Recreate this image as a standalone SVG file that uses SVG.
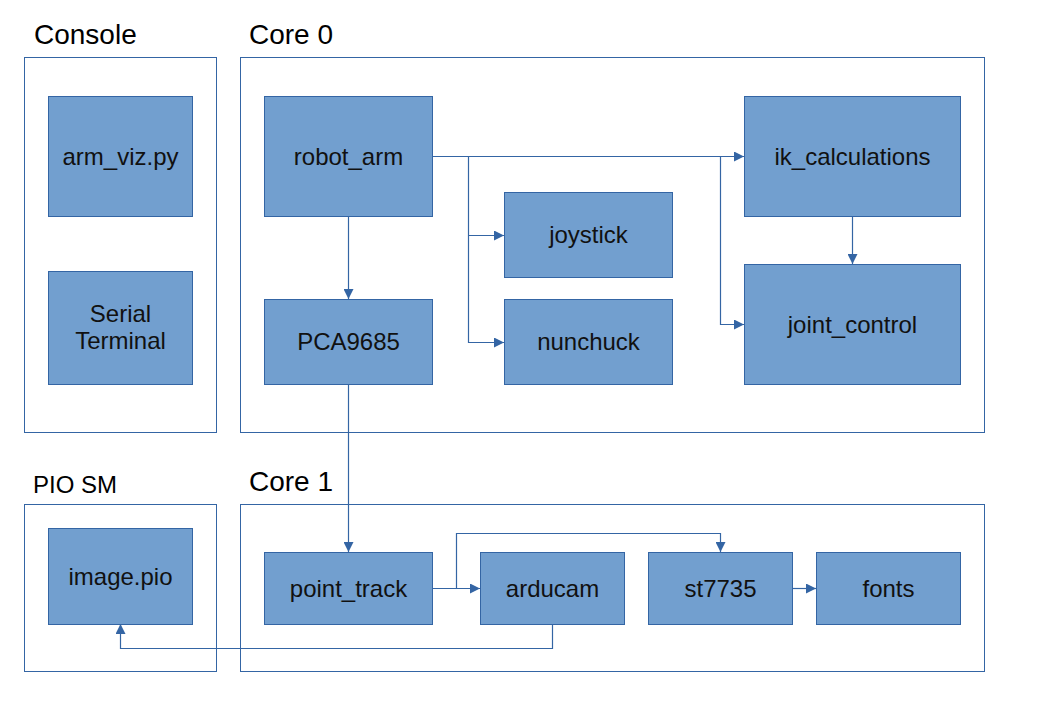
<svg xmlns="http://www.w3.org/2000/svg" width="1058" height="701" viewBox="0 0 1058 701">
<style>
.grp{fill:#fff;stroke:#3465a4;stroke-width:1}
.node rect{fill:#729fcf;stroke:#3465a4;stroke-width:1}
.node text{font-family:"Liberation Sans",Arial,sans-serif;font-size:24px;fill:#111;text-anchor:middle}
.title{font-family:"Liberation Sans",Arial,sans-serif;font-size:28px;fill:#000}
.conn path{fill:none;stroke:#3465a4;stroke-width:1.2}
</style>
<defs>
<marker id="arr" viewBox="0 0 10 10" refX="10" refY="5" markerWidth="10" markerHeight="10" markerUnits="userSpaceOnUse" orient="auto">
<path d="M0,0 L10,5 L0,10 z" fill="#3465a4"/>
</marker>
</defs>
<rect width="1058" height="701" fill="#fff"/>
<g id="containers">
<rect class="grp" x="24.5" y="57.5" width="192" height="375"/>
<rect class="grp" x="240.5" y="57.5" width="744" height="375"/>
<rect class="grp" x="24.5" y="504.5" width="192" height="167"/>
<rect class="grp" x="240.5" y="504.5" width="744" height="167"/>
<text class="title" x="34" y="44">Console</text>
<text class="title" x="249" y="44">Core 0</text>
<text class="title" x="33" y="493" style="font-size:24px">PIO SM</text>
<text class="title" x="249" y="491">Core 1</text>
</g>
<g class="conn" id="connectors">
<path d="M432,156.5 H744" marker-end="url(#arr)"/>
<path d="M468.5,156 V342.5 H504" marker-end="url(#arr)"/>
<path d="M468.5,235.5 H504" marker-end="url(#arr)"/>
<path d="M720.5,156 V324.5 H744" marker-end="url(#arr)"/>
<path d="M348.5,216 V299" marker-end="url(#arr)"/>
<path d="M852.5,216 V264" marker-end="url(#arr)"/>
<path d="M348.5,384 V552" marker-end="url(#arr)"/>
<path d="M432,588.5 H480" marker-end="url(#arr)"/>
<path d="M456.5,588.5 V533.5 H720.5 V552" marker-end="url(#arr)"/>
<path d="M792,588.5 H816" marker-end="url(#arr)"/>
<path d="M552.5,624 V648.5 H120.5 V624" marker-end="url(#arr)"/>
</g>
<g class="node" id="arm_viz"><rect x="48.5" y="96.5" width="144" height="120"/><text x="120.5" y="165">arm_viz.py</text></g>
<g class="node" id="serial_terminal"><rect x="48.5" y="271.5" width="144" height="113"/><text x="120.5" y="322">Serial</text><text x="120.5" y="349">Terminal</text></g>
<g class="node" id="robot_arm"><rect x="264.5" y="96.5" width="168" height="120"/><text x="348.5" y="165">robot_arm</text></g>
<g class="node" id="pca9685"><rect x="264.5" y="299.5" width="168" height="85"/><text x="348.5" y="350">PCA9685</text></g>
<g class="node" id="joystick"><rect x="504.5" y="192.5" width="168" height="85"/><text x="588.5" y="243">joystick</text></g>
<g class="node" id="nunchuck"><rect x="504.5" y="299.5" width="168" height="85"/><text x="588.5" y="350">nunchuck</text></g>
<g class="node" id="ik_calculations"><rect x="744.5" y="96.5" width="216" height="120"/><text x="852.5" y="165">ik_calculations</text></g>
<g class="node" id="joint_control"><rect x="744.5" y="264.5" width="216" height="120"/><text x="852.5" y="333">joint_control</text></g>
<g class="node" id="image_pio"><rect x="48.5" y="528.5" width="144" height="96"/><text x="120.5" y="585">image.pio</text></g>
<g class="node" id="point_track"><rect x="264.5" y="552.5" width="168" height="72"/><text x="348.5" y="597">point_track</text></g>
<g class="node" id="arducam"><rect x="480.5" y="552.5" width="144" height="72"/><text x="552.5" y="597">arducam</text></g>
<g class="node" id="st7735"><rect x="648.5" y="552.5" width="144" height="72"/><text x="720.5" y="597">st7735</text></g>
<g class="node" id="fonts"><rect x="816.5" y="552.5" width="144" height="72"/><text x="888.5" y="597">fonts</text></g>
</svg>
